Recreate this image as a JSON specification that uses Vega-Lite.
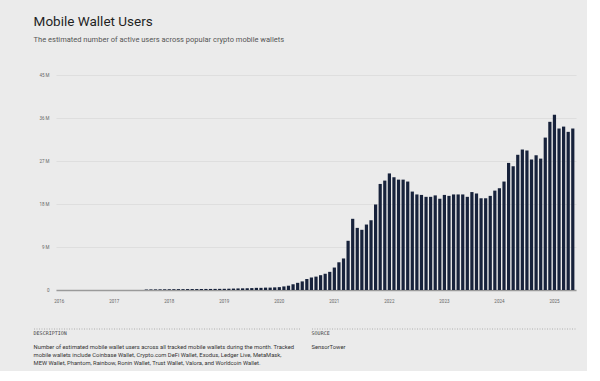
{
  "$schema": "https://vega.github.io/schema/vega-lite/v6.json",
  "background": "#ebebeb",
  "padding": {"left": 33, "top": 15, "right": 10, "bottom": 5},
  "title": {
    "text": "Mobile Wallet Users",
    "subtitle": "The estimated number of active users across popular crypto mobile wallets",
    "anchor": "start",
    "font": "Roboto",
    "fontSize": 13.5,
    "fontWeight": "normal",
    "color": "#1f1f1f",
    "subtitleFont": "Roboto",
    "subtitleFontSize": 7.5,
    "subtitleColor": "#555555",
    "subtitlePadding": 7,
    "offset": 29
  },
  "config": {"view": {"stroke": null}, "font": "Roboto"},
  "spacing": 39,
  "bounds": "flush",
  "vconcat": [
    {
      "width": 520,
      "height": 215,
      "data": {"values": [
        {"month": "2016-01", "users_m": 0}, {"month": "2016-02", "users_m": 0}, {"month": "2016-03", "users_m": 0},
        {"month": "2016-04", "users_m": 0}, {"month": "2016-05", "users_m": 0}, {"month": "2016-06", "users_m": 0},
        {"month": "2016-07", "users_m": 0}, {"month": "2016-08", "users_m": 0}, {"month": "2016-09", "users_m": 0},
        {"month": "2016-10", "users_m": 0}, {"month": "2016-11", "users_m": 0}, {"month": "2016-12", "users_m": 0},
        {"month": "2017-01", "users_m": 0}, {"month": "2017-02", "users_m": 0}, {"month": "2017-03", "users_m": 0},
        {"month": "2017-04", "users_m": 0}, {"month": "2017-05", "users_m": 0}, {"month": "2017-06", "users_m": 0},
        {"month": "2017-07", "users_m": 0}, {"month": "2017-08", "users_m": 0.1}, {"month": "2017-09", "users_m": 0.12},
        {"month": "2017-10", "users_m": 0.13}, {"month": "2017-11", "users_m": 0.14}, {"month": "2017-12", "users_m": 0.15},
        {"month": "2018-01", "users_m": 0.16}, {"month": "2018-02", "users_m": 0.17}, {"month": "2018-03", "users_m": 0.18},
        {"month": "2018-04", "users_m": 0.18}, {"month": "2018-05", "users_m": 0.19}, {"month": "2018-06", "users_m": 0.2},
        {"month": "2018-07", "users_m": 0.2}, {"month": "2018-08", "users_m": 0.21}, {"month": "2018-09", "users_m": 0.22},
        {"month": "2018-10", "users_m": 0.22}, {"month": "2018-11", "users_m": 0.23}, {"month": "2018-12", "users_m": 0.24},
        {"month": "2019-01", "users_m": 0.25}, {"month": "2019-02", "users_m": 0.27}, {"month": "2019-03", "users_m": 0.3},
        {"month": "2019-04", "users_m": 0.33}, {"month": "2019-05", "users_m": 0.35}, {"month": "2019-06", "users_m": 0.37},
        {"month": "2019-07", "users_m": 0.4}, {"month": "2019-08", "users_m": 0.45}, {"month": "2019-09", "users_m": 0.45},
        {"month": "2019-10", "users_m": 0.5}, {"month": "2019-11", "users_m": 0.5}, {"month": "2019-12", "users_m": 0.55},
        {"month": "2020-01", "users_m": 0.6}, {"month": "2020-02", "users_m": 0.75}, {"month": "2020-03", "users_m": 0.9},
        {"month": "2020-04", "users_m": 1.2}, {"month": "2020-05", "users_m": 1.5}, {"month": "2020-06", "users_m": 1.8},
        {"month": "2020-07", "users_m": 2.3}, {"month": "2020-08", "users_m": 2.6}, {"month": "2020-09", "users_m": 2.8},
        {"month": "2020-10", "users_m": 3.1}, {"month": "2020-11", "users_m": 3.4}, {"month": "2020-12", "users_m": 3.8},
        {"month": "2021-01", "users_m": 4.7}, {"month": "2021-02", "users_m": 5.8}, {"month": "2021-03", "users_m": 6.6},
        {"month": "2021-04", "users_m": 10.3}, {"month": "2021-05", "users_m": 14.9}, {"month": "2021-06", "users_m": 13.0},
        {"month": "2021-07", "users_m": 12.6}, {"month": "2021-08", "users_m": 13.7}, {"month": "2021-09", "users_m": 14.6},
        {"month": "2021-10", "users_m": 17.9}, {"month": "2021-11", "users_m": 22.2}, {"month": "2021-12", "users_m": 22.9},
        {"month": "2022-01", "users_m": 24.4}, {"month": "2022-02", "users_m": 23.6}, {"month": "2022-03", "users_m": 23.1},
        {"month": "2022-04", "users_m": 23.1}, {"month": "2022-05", "users_m": 22.7}, {"month": "2022-06", "users_m": 20.6},
        {"month": "2022-07", "users_m": 20.0}, {"month": "2022-08", "users_m": 19.9}, {"month": "2022-09", "users_m": 19.5},
        {"month": "2022-10", "users_m": 19.5}, {"month": "2022-11", "users_m": 19.8}, {"month": "2022-12", "users_m": 19.1},
        {"month": "2023-01", "users_m": 19.9}, {"month": "2023-02", "users_m": 19.7}, {"month": "2023-03", "users_m": 20.0},
        {"month": "2023-04", "users_m": 20.0}, {"month": "2023-05", "users_m": 20.0}, {"month": "2023-06", "users_m": 19.5},
        {"month": "2023-07", "users_m": 20.5}, {"month": "2023-08", "users_m": 20.2}, {"month": "2023-09", "users_m": 19.2},
        {"month": "2023-10", "users_m": 19.2}, {"month": "2023-11", "users_m": 19.7}, {"month": "2023-12", "users_m": 20.8},
        {"month": "2024-01", "users_m": 21.3}, {"month": "2024-02", "users_m": 22.7}, {"month": "2024-03", "users_m": 26.6},
        {"month": "2024-04", "users_m": 25.9}, {"month": "2024-05", "users_m": 28.3}, {"month": "2024-06", "users_m": 29.4},
        {"month": "2024-07", "users_m": 29.2}, {"month": "2024-08", "users_m": 27.3}, {"month": "2024-09", "users_m": 28.2},
        {"month": "2024-10", "users_m": 27.5}, {"month": "2024-11", "users_m": 31.9}, {"month": "2024-12", "users_m": 35.2},
        {"month": "2025-01", "users_m": 36.7}, {"month": "2025-02", "users_m": 33.8}, {"month": "2025-03", "users_m": 34.2},
        {"month": "2025-04", "users_m": 33.1}, {"month": "2025-05", "users_m": 33.8}
      ]},
      "mark": {"type": "bar", "color": "#17223b"},
      "encoding": {
        "x": {
          "field": "month",
          "type": "ordinal",
          "scale": {"paddingInner": 0.3, "paddingOuter": 0.35},
          "axis": {
            "title": null,
            "labelExpr": "slice(datum.value, 5) == '01' ? slice(datum.value, 0, 4) : ''",
            "labelAngle": 0,
            "ticks": false,
            "domainColor": "#9a9a9a",
            "domainWidth": 1.5,
            "labelFontSize": 4.5,
            "labelColor": "#666666",
            "labelPadding": 8,
            "grid": false
          }
        },
        "y": {
          "field": "users_m",
          "type": "quantitative",
          "scale": {"domain": [0, 45]},
          "axis": {
            "title": null,
            "values": [0, 9, 18, 27, 36, 45],
            "labelExpr": "datum.value == 0 ? '0' : datum.value + ' M'",
            "domain": false,
            "ticks": false,
            "gridColor": "#d5d5d5",
            "gridWidth": 0.6,
            "labelFontSize": 4.5,
            "labelColor": "#666666",
            "labelPadding": 7
          }
        }
      }
    },
    {
      "spacing": 11,
      "bounds": "flush",
      "hconcat": [
        {
          "width": 245,
          "height": 1,
          "data": {"values": [{}]},
          "mark": {"type": "rule", "color": "#a0a0a0", "strokeDash": [1, 1.5], "strokeWidth": 0.8},
          "encoding": {
            "x": {"datum": -22, "type": "quantitative", "scale": {"domain": [0, 245], "nice": false, "zero": false}, "axis": null},
            "x2": {"datum": 245},
            "y": {"datum": 1, "type": "quantitative", "scale": {"domain": [0, 1]}, "axis": null}
          },
          "title": {
            "text": "DESCRIPTION",
            "subtitle": [
              "Number of estimated mobile wallet users across all tracked mobile wallets during the month. Tracked",
              "mobile wallets include Coinbase Wallet, Crypto.com DeFi Wallet, Exodus, Ledger Live, MetaMask,",
              "MEW Wallet, Phantom, Rainbow, Ronin Wallet, Trust Wallet, Valora, and Worldcoin Wallet."
            ],
            "orient": "bottom",
            "anchor": "start",
            "font": "DejaVu Sans Mono",
            "fontSize": 5,
            "fontWeight": "normal",
            "color": "#444444",
            "offset": 1,
            "subtitleFont": "Roboto",
            "subtitleFontSize": 5.8,
            "subtitleColor": "#333333",
            "subtitlePadding": 8,
            "subtitleLineHeight": 8
          }
        },
        {
          "width": 264,
          "height": 1,
          "data": {"values": [{}]},
          "mark": {"type": "rule", "color": "#a0a0a0", "strokeDash": [1, 1.5], "strokeWidth": 0.8},
          "encoding": {
            "x": {"datum": 0, "type": "quantitative", "scale": {"domain": [0, 264], "nice": false}, "axis": null},
            "x2": {"datum": 264},
            "y": {"datum": 1, "type": "quantitative", "scale": {"domain": [0, 1]}, "axis": null}
          },
          "title": {
            "text": "SOURCE",
            "subtitle": ["SensorTower"],
            "orient": "bottom",
            "anchor": "start",
            "font": "DejaVu Sans Mono",
            "fontSize": 5,
            "fontWeight": "normal",
            "color": "#444444",
            "offset": 1,
            "subtitleFont": "Roboto",
            "subtitleFontSize": 5.8,
            "subtitleColor": "#333333",
            "subtitlePadding": 8,
            "subtitleLineHeight": 8
          }
        }
      ]
    }
  ]
}
